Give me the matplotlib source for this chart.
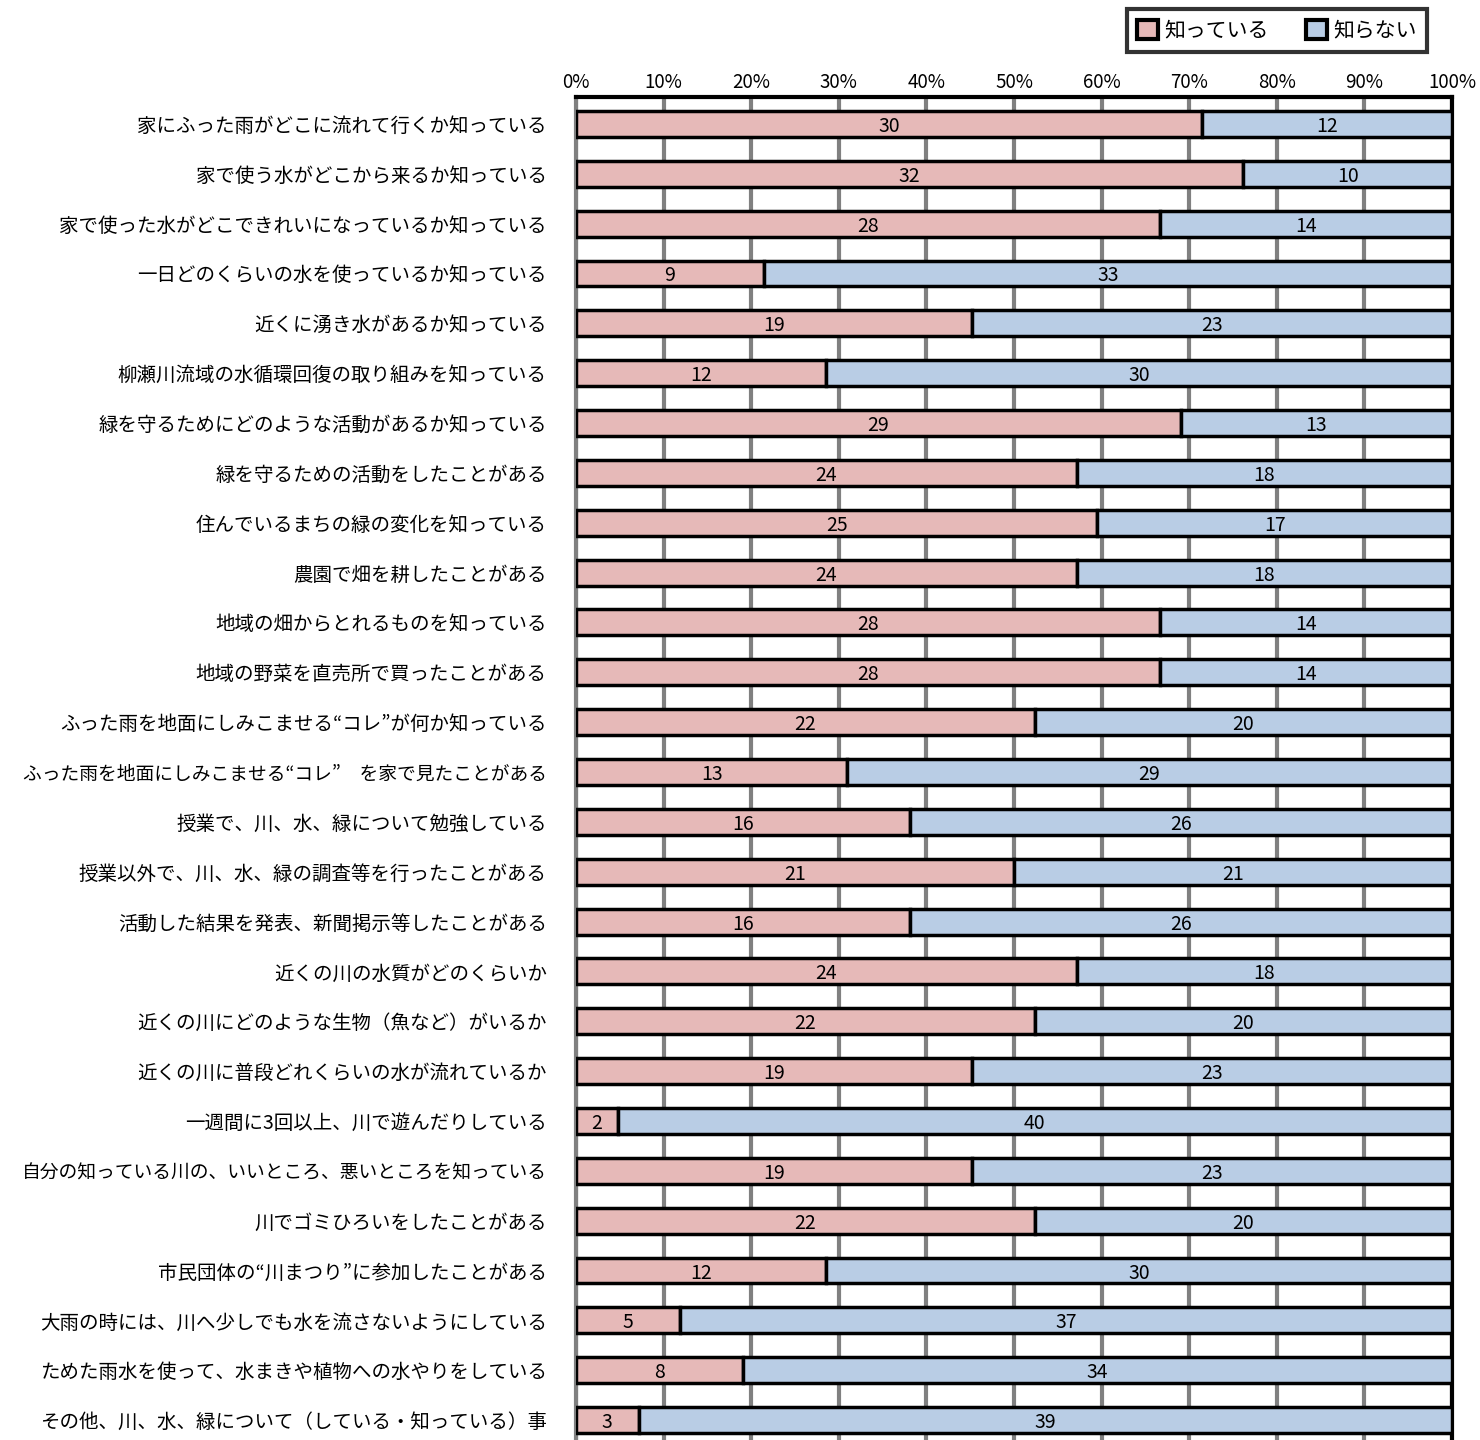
import matplotlib.pyplot as plt
import numpy as np
from matplotlib.patches import Patch
from matplotlib.ticker import PercentFormatter

plt.rcParams['font.family'] = ['Noto Sans CJK JP', 'DejaVu Sans']

labels = [
    '家にふった雨がどこに流れて行くか知っている',
    '家で使う水がどこから来るか知っている',
    '家で使った水がどこできれいになっているか知っている',
    '一日どのくらいの水を使っているか知っている',
    '近くに湧き水があるか知っている',
    '柳瀬川流域の水循環回復の取り組みを知っている',
    '緑を守るためにどのような活動があるか知っている',
    '緑を守るための活動をしたことがある',
    '住んでいるまちの緑の変化を知っている',
    '農園で畑を耕したことがある',
    '地域の畑からとれるものを知っている',
    '地域の野菜を直売所で買ったことがある',
    'ふった雨を地面にしみこませる“コレ”が何か知っている',
    'ふった雨を地面にしみこませる“コレ”　を家で見たことがある',
    '授業で、川、水、緑について勉強している',
    '授業以外で、川、水、緑の調査等を行ったことがある',
    '活動した結果を発表、新聞掲示等したことがある',
    '近くの川の水質がどのくらいか',
    '近くの川にどのような生物（魚など）がいるか',
    '近くの川に普段どれくらいの水が流れているか',
    '一週間に3回以上、川で遊んだりしている',
    '自分の知っている川の、いいところ、悪いところを知っている',
    '川でゴミひろいをしたことがある',
    '市民団体の“川まつり”に参加したことがある',
    '大雨の時には、川へ少しでも水を流さないようにしている',
    'ためた雨水を使って、水まきや植物への水やりをしている',
    'その他、川、水、緑について（している・知っている）事',
]
know = [30, 32, 28, 9, 19, 12, 29, 24, 25, 24, 28, 28, 22, 13,
        16, 21, 16, 24, 22, 19, 2, 19, 22, 12, 5, 8, 3]
dont_know = [12, 10, 14, 33, 23, 30, 13, 18, 17, 18, 14, 14, 20, 29,
             26, 21, 26, 18, 20, 23, 40, 23, 20, 30, 37, 34, 39]

series_names = ['知っている', '知らない']
pink = '#E6B9B8'
blue = '#B9CDE5'

know = np.array(know, dtype=float)
dont_know = np.array(dont_know, dtype=float)
total = know + dont_know
p_know = know / total * 100
p_dont = dont_know / total * 100

fig = plt.figure(figsize=(14.8, 14.4), dpi=100)
ax = fig.add_axes([576 / 1480, 1 - 1447 / 1440, 876 / 1480, 1350 / 1440])

y = np.arange(len(labels))
h = 0.52
ax.barh(y, p_know, height=h, color=pink, edgecolor='black', linewidth=2.5, zorder=3)
ax.barh(y, p_dont, left=p_know, height=h, color=blue, edgecolor='black', linewidth=2.5, zorder=3)

# counts written in the middle of each segment
for i in range(len(labels)):
    ax.text(p_know[i] / 2, y[i] + 0.05, f'{int(know[i])}', ha='center', va='center',
            fontsize=14, zorder=4)
    ax.text(p_know[i] + p_dont[i] / 2, y[i] + 0.05, f'{int(dont_know[i])}',
            ha='center', va='center', fontsize=14, zorder=4)

ax.set_xlim(0, 100)
ax.set_ylim(len(labels) - 0.46, -0.54)
ax.set_xticks(np.arange(0, 101, 10))
ax.xaxis.set_major_formatter(PercentFormatter(decimals=0))
ax.xaxis.tick_top()
ax.tick_params(axis='x', length=0, labelsize=13.5, pad=3)
ax.set_yticks(y)
ax.set_yticklabels(labels)
# long labels get a slightly smaller size so they fit on the left
for t in ax.get_yticklabels():
    t.set_fontsize(13.5 if len(t.get_text()) >= 27 else 14)
ax.tick_params(axis='y', length=0, pad=21)
ax.grid(axis='x', color='#808080', linewidth=3, zorder=0)
ax.set_axisbelow(True)

ax.spines['left'].set_color('#808080')
ax.spines['left'].set_linewidth(3)
ax.spines['top'].set_linewidth(3)
ax.spines['right'].set_linewidth(3)
ax.spines['bottom'].set_linewidth(3)

handles = [Patch(facecolor=pink, edgecolor='black', linewidth=3),
           Patch(facecolor=blue, edgecolor='black', linewidth=3)]
leg = fig.legend(handles, series_names, loc='upper right',
                 bbox_to_anchor=(1427 / 1480, 1 - 9 / 1440), ncol=2,
                 fontsize=15, frameon=True, fancybox=False,
                 handlelength=1.0, handleheight=1.0, handletextpad=0.3,
                 columnspacing=1.8, borderpad=0.5, borderaxespad=0)
leg.get_frame().set_edgecolor('black')
leg.get_frame().set_linewidth(3)

fig.savefig('out.png', dpi=100)
